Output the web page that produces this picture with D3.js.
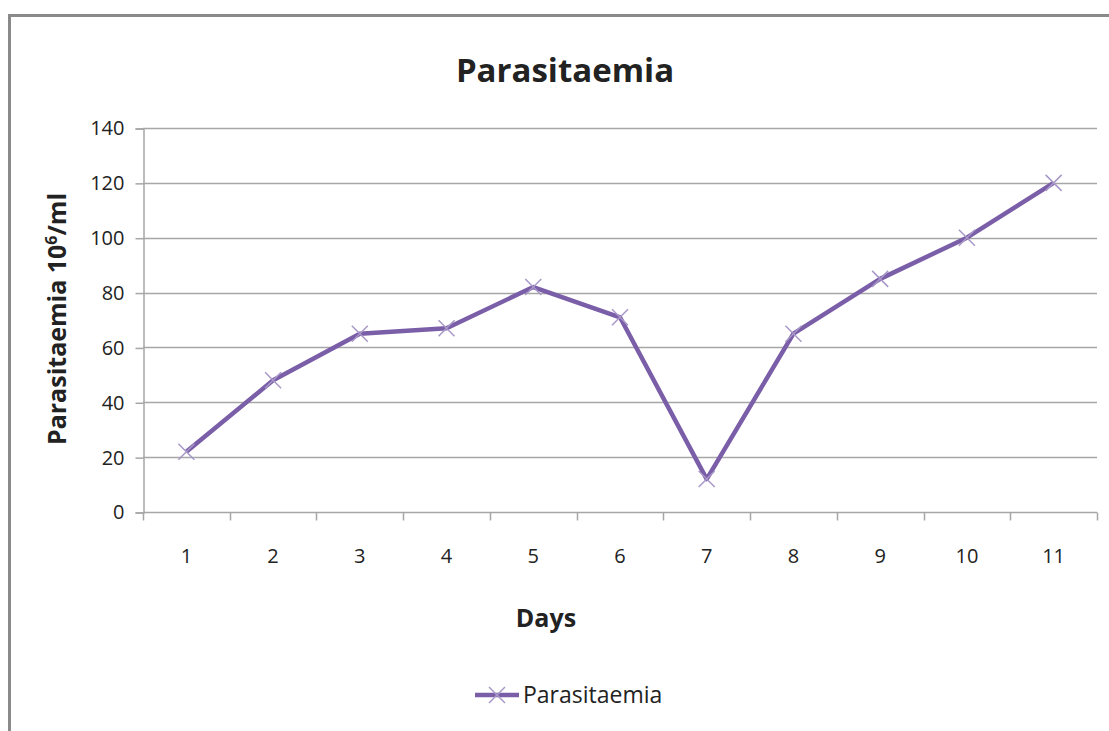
<!DOCTYPE html>
<html>
<head>
<meta charset="utf-8">
<script src="https://cdn.jsdelivr.net/npm/d3@7"></script>
<style>
  html, body { margin: 0; padding: 0; background: #fff; }
  svg { display: block; }
  text { font-family: "Liberation Sans Narrow", "Open Sans", "Noto Sans", sans-serif; fill: #222; }
</style>
</head>
<body>
<svg id="chart" width="1109" height="731"></svg>
<script>
// chart values
const days = ['1', '2', '3', '4', '5', '6', '7', '8', '9', '10', '11'];
const parasitaemia = [22, 48, 65, 67, 82, 71, 12, 65, 85, 100, 120];
const yTicks = [0, 20, 40, 60, 80, 100, 120, 140];
const seriesName = 'Parasitaemia';

const svg = d3.select('#chart');
const W = 1109, H = 731;
const m = { left: 143, right: 1097, top: 128, bottom: 512 };

// outer frame (runs off the right and bottom edges)
svg.append('path')
    .attr('d', 'M9.5,' + (H + 5) + ' V15.5 H' + (W + 5))
    .attr('fill', 'none').attr('stroke', '#8a8a8a').attr('stroke-width', 3);

const x = d3.scaleBand().domain(days).range([m.left, m.right]);
const y = d3.scaleLinear().domain([0, 140]).range([m.bottom, m.top]);

// gridlines
svg.append('g').selectAll('line').data(yTicks.filter(d => d > 0)).enter().append('line')
    .attr('x1', m.left).attr('x2', m.right)
    .attr('y1', d => Math.round(y(d)) + 0.5).attr('y2', d => Math.round(y(d)) + 0.5)
    .attr('stroke', '#a6a6a6').attr('stroke-width', 1.5);

// y axis
const yAxis = svg.append('g').attr('transform', 'translate(' + (m.left + 0.5) + ',0.5)')
    .call(d3.axisLeft(y).tickValues(yTicks).tickSize(8).tickPadding(11));
yAxis.select('.domain').attr('stroke', '#a6a6a6').attr('stroke-width', 1.5);
yAxis.selectAll('.tick line').attr('stroke', '#a6a6a6').attr('stroke-width', 1.5);
yAxis.selectAll('text').style('font-size', '20px').attr('fill', '#222');

// x axis with ticks on band edges
const xAxis = svg.append('g').attr('transform', 'translate(0,' + (m.bottom + 0.5) + ')');
xAxis.append('line').attr('x1', m.left).attr('x2', m.right)
    .attr('stroke', '#a6a6a6').attr('stroke-width', 1.5);
const edges = days.map(d => x(d)).concat([m.right]);
xAxis.selectAll('line.edge').data(edges).enter().append('line').attr('class', 'edge')
    .attr('x1', d => Math.round(d) + 0.5).attr('x2', d => Math.round(d) + 0.5)
    .attr('y1', 0).attr('y2', 8)
    .attr('stroke', '#a6a6a6').attr('stroke-width', 1.5);
xAxis.selectAll('text').data(days).enter().append('text')
    .attr('x', d => x(d) + x.bandwidth() / 2).attr('y', 50)
    .attr('text-anchor', 'middle').style('font-size', '20px').text(d => d);

// series line
const cx = (d, i) => x(days[i]) + x.bandwidth() / 2;
const line = d3.line().x(cx).y(d => y(d));
svg.append('path').datum(parasitaemia)
    .attr('d', line).attr('fill', 'none')
    .attr('stroke', '#7a5ea8').attr('stroke-width', 4.5)
    .attr('stroke-linejoin', 'round');

// x markers
const mk = 8;
svg.append('g').selectAll('path').data(parasitaemia).enter().append('path')
    .attr('d', (d, i) => {
        const px = cx(d, i), py = y(d);
        return 'M' + (px - mk) + ',' + (py - mk) + 'L' + (px + mk) + ',' + (py + mk) +
            'M' + (px - mk) + ',' + (py + mk) + 'L' + (px + mk) + ',' + (py - mk);
    })
    .attr('stroke', '#a898c8').attr('stroke-width', 1.5).attr('fill', 'none');

// title
svg.append('text').attr('x', 565).attr('y', 82).attr('text-anchor', 'middle')
    .style('font-size', '33px').style('font-weight', 'bold').text('Parasitaemia');

// y axis label
const yl = svg.append('text')
    .attr('transform', 'translate(66,319) rotate(-90)')
    .attr('text-anchor', 'middle')
    .style('font-size', '25px').style('font-weight', 'bold');
yl.append('tspan').text('Parasitaemia 10');
yl.append('tspan').attr('dy', -9).style('font-size', '16px').text('6');
yl.append('tspan').attr('dy', 9).text('/ml');

// x axis label
svg.append('text').attr('x', 546).attr('y', 627).attr('text-anchor', 'middle')
    .style('font-size', '25px').style('font-weight', 'bold').text('Days');

// legend
const lg = svg.append('g').attr('transform', 'translate(475,695)');
lg.append('line').attr('x1', 0).attr('x2', 44).attr('stroke', '#7a5ea8').attr('stroke-width', 4.5);
lg.append('path').attr('d', 'M14,-8L30,8M14,8L30,-8').attr('stroke', '#a898c8').attr('stroke-width', 1.5);
lg.append('text').attr('x', 48).attr('y', 8).style('font-size', '23px').text(seriesName);
</script>
</body>
</html>
